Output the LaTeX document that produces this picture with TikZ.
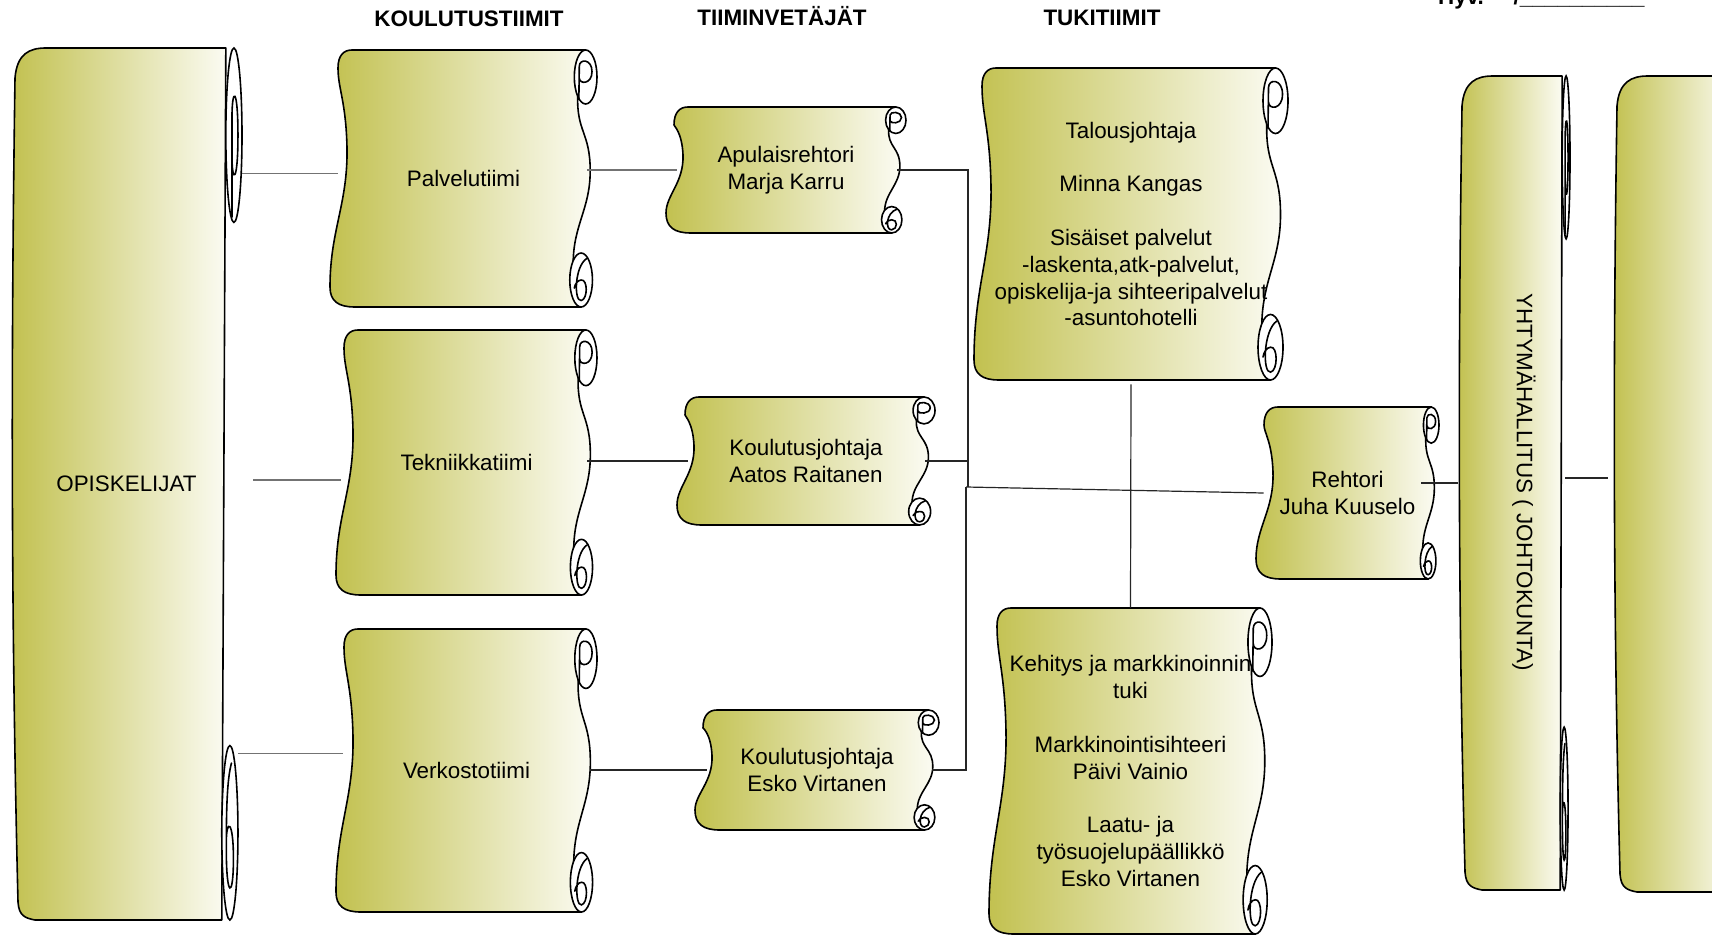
\documentclass[tikz,border=0pt]{standalone}
\usepackage{fontspec}
\setmainfont{Liberation Sans}
\usetikzlibrary{calc}
\definecolor{scrL}{RGB}{194,193,80}
\definecolor{scrR}{RGB}{251,251,242}
\tikzset{
 scrollbody/.style={left color=scrL,right color=scrR,draw=black,line width=0.8pt,line join=round},
 rollpart/.style={fill=white,draw=black,line width=0.8pt},
 curl/.style={draw=black,line width=0.8pt,line cap=round},
 scrolltext/.style={inner sep=0pt,align=center,font=\fontsize{11.2}{13.4}\selectfont},
 header/.style={anchor=base,font=\bfseries\fontsize{11.2}{13}\selectfont},
 conn/.style={draw=black!85,line width=0.6pt},
 conng/.style={draw=black!55,line width=0.6pt},
}
\newcommand\HScroll[6]{%
 \pgfmathsetmacro\sL{#2}\pgfmathsetmacro\sT{#3}%
 \pgfmathsetmacro\sR{#4}\pgfmathsetmacro\sB{#5}%
 \pgfmathsetmacro\sW{\sR-\sL}\pgfmathsetmacro\sH{\sB-\sT}%
 \pgfmathsetmacro\sw{min(0.085*\sW,25)}\pgfmathsetmacro\sh{0.21*\sH}%
 \pgfmathsetmacro\ca{\sR-0.5*\sw}\pgfmathsetmacro\cb{\sR-0.7*\sw}%
 \pgfmathsetmacro\rx{0.25*\sw}\pgfmathsetmacro\ry{0.25*\sh}%
 \pgfmathsetmacro\nW{0.5*\sW}\pgfmathsetmacro\nH{0.5*\sH}%
 \path[scrollbody] (\sL+22,\sT) -- (\ca,\sT) -- (\sR-0.85*\sw,\sT+0.85*\sh)
   .. controls (\sR-0.9*\sw,\sT+0.32*\sH) and (\sR-0.3*\sw,\sT+0.32*\sH) .. (\sR-0.3*\sw,\sT+0.47*\sH)
   .. controls (\sR-0.3*\sw,\sT+0.62*\sH) and (\sR-1.05*\sw,\sB-0.32*\sH) .. (\sR-1.05*\sw,\sB-0.8*\sh)
   -- (\cb,\sB) -- (\sL+25,\sB)
   .. controls (\sL+8,\sB) and (\sL,\sB-6) .. (\sL,\sB-20)
   .. controls (\sL,\sB-0.3*\sH) and (\sL+18,\sT+0.6*\sH) .. (\sL+17,\sT+0.38*\sH)
   .. controls (\sL+16,\sT+0.2*\sH) and (\sL+8,\sT+0.15*\sH) .. (\sL+8,\sT+18)
   .. controls (\sL+8,\sT+5) and (\sL+14,\sT) .. (\sL+22,\sT) -- cycle;
 \path[rollpart] (\ca,\sT+0.5*\sh) ellipse [x radius=\rx pt,y radius=\ry pt];
 \path[curl] (\ca-0.3*\sw,\sT+0.92*\sh) -- (\ca-0.28*\sw,\sT+0.3*\sh)
   .. controls (\ca-0.28*\sw,\sT+0.16*\sh) and (\ca+0.28*\sw,\sT+0.16*\sh) .. (\ca+0.28*\sw,\sT+0.4*\sh)
   .. controls (\ca+0.28*\sw,\sT+0.64*\sh) and (\ca-0.28*\sw,\sT+0.64*\sh) .. (\ca-0.28*\sw,\sT+0.52*\sh);
 \path[rollpart] (\cb,\sB-0.5*\sh) ellipse [x radius=\rx pt,y radius=\ry pt];
 \path[curl] (\cb+0.25*\sw,\sB-0.9*\sh)
   .. controls (\cb-0.3*\sw,\sB-0.75*\sh) and (\cb-0.32*\sw,\sB-0.1*\sh) .. (\cb,\sB-0.12*\sh)
   .. controls (\cb+0.3*\sw,\sB-0.14*\sh) and (\cb+0.3*\sw,\sB-0.52*\sh) .. (\cb,\sB-0.5*\sh)
   .. controls (\cb-0.15*\sw,\sB-0.5*\sh) and (\cb-0.28*\sw,\sB-0.42*\sh) .. (\cb-0.3*\sw,\sB-0.35*\sh);
 \node[scrolltext,minimum width=\nW pt,minimum height=\nH pt] (#1) at ({(\sL+\sR)/2},{(\sT+\sB)/2}) {#6};
}
\newcommand\VScroll[6]{%
 \pgfmathsetmacro\sL{#2}\pgfmathsetmacro\sT{#3}%
 \pgfmathsetmacro\sR{#4}\pgfmathsetmacro\sB{#5}%
 \pgfmathsetmacro\sW{\sR-\sL}\pgfmathsetmacro\sH{\sB-\sT}%
 \pgfmathsetmacro\sw{0.07*\sW}\pgfmathsetmacro\sh{0.2*\sH}%
 \pgfmathsetmacro\ca{\sR-0.5*\sw}\pgfmathsetmacro\cb{\sR-0.75*\sw}%
 \pgfmathsetmacro\rx{0.25*\sw}\pgfmathsetmacro\ry{0.25*\sh}%
 \pgfmathsetmacro\nW{0.5*\sW}\pgfmathsetmacro\nH{0.5*\sH}%
 \path[scrollbody] (\sL+35,\sT) -- (\sR-\sw,\sT) -- (\sR-1.25*\sw,\sB) -- (\sL+24,\sB)
   .. controls (\sL+14,\sB-2) and (\sL+8,\sB-4) .. (\sL+7,\sB-18)
   .. controls (\sL,\sB-0.35*\sH) and (\sL,\sT+0.35*\sH) .. (\sL+4,\sT+30)
   .. controls (\sL+6,\sT+6) and (\sL+18,\sT) .. (\sL+35,\sT) -- cycle;
 \path[rollpart] (\ca,\sT+0.5*\sh) ellipse [x radius=\rx pt,y radius=\ry pt];
 \path[curl] (\sR-0.62*\sw,\sT+0.97*\sh) -- (\sR-0.62*\sw,\sT+0.4*\sh)
   .. controls (\sR-0.62*\sw,\sT+0.22*\sh) and (\sR-0.25*\sw,\sT+0.22*\sh) .. (\sR-0.25*\sw,\sT+0.5*\sh)
   .. controls (\sR-0.25*\sw,\sT+0.78*\sh) and (\sR-0.62*\sw,\sT+0.78*\sh) .. (\sR-0.62*\sw,\sT+0.62*\sh);
 \path[rollpart] (\cb,\sB-0.5*\sh) ellipse [x radius=\rx pt,y radius=\ry pt];
 \path[curl] (\cb+0.1*\sw,\sB-0.9*\sh)
   .. controls (\cb-0.2*\sw,\sB-0.8*\sh) and (\cb-0.22*\sw,\sB-0.6*\sh) .. (\cb-0.22*\sw,\sB-0.4*\sh)
   .. controls (\cb-0.22*\sw,\sB-0.12*\sh) and (\cb+0.22*\sw,\sB-0.12*\sh) .. (\cb+0.22*\sw,\sB-0.35*\sh)
   .. controls (\cb+0.22*\sw,\sB-0.58*\sh) and (\cb-0.22*\sw,\sB-0.58*\sh) .. (\cb-0.22*\sw,\sB-0.45*\sh);
 \node[scrolltext,minimum width=\nW pt,minimum height=\nH pt] (#1) at ({(\sL+\sR)/2},{(\sT+\sB)/2}) {#6};
}
\begin{document}
\begin{tikzpicture}[x=0.5pt,y=-0.5pt]
\useasboundingbox (0,0) rectangle (1712,936);
\clip (0,0) rectangle (1712,936);
% headers
\node[header] (h1) at (469,27) {KOULUTUSTIIMIT};
\node[header] (h2) at (782,26) {TIIMINVETÄJÄT};
\node[header] (h3) at (1102,26) {TUKITIIMIT};
\node[anchor=base west,font=\bfseries\fontsize{11.2}{13}\selectfont] (hyv) at (1431,5) {Hyv.\hspace{15pt}/\_\_\_\_\_\_\_\_\_\_};
% scrolls
\VScroll{opisk}{11}{48}{242}{920}{OPISKELIJAT}
\HScroll{palv}{330}{50}{597}{307}{Palvelutiimi}
\HScroll{tekn}{336}{330}{597}{595}{Tekniikkatiimi}
\HScroll{verk}{336}{629}{597}{912}{Verkostotiimi}
\HScroll{apul}{666}{107}{906}{233}{Apulaisrehtori\\Marja Karru}
\HScroll{aatos}{677}{397}{935}{525}{Koulutusjohtaja\\Aatos Raitanen}
\HScroll{esko}{695}{710}{939}{830}{Koulutusjohtaja\\Esko Virtanen}
\HScroll{talous}{974}{68}{1288}{380}{Talousjohtaja\\~\\Minna Kangas\\~\\Sisäiset palvelut\\-laskenta,atk-palvelut,\\opiskelija-ja sihteeripalvelut\\-asuntohotelli}
\HScroll{kehit}{989}{608}{1272}{934}{Kehitys ja markkinoinnin\\tuki\\~\\Markkinointisihteeri\\Päivi Vainio\\~\\Laatu- ja\\työsuojelupäällikkö\\Esko Virtanen}
\HScroll{rehtori}{1256}{407}{1439}{579}{Rehtori\\Juha Kuuselo}
\VScroll{yhty}{1458}{76}{1570}{890}{}
\node[scrolltext,rotate=-90] (yhtytext) at (1524,482) {YHTYMÄHALLITUS ( JOHTOKUNTA)};
\VScroll{hallb}{1613}{76}{1745}{892}{}
% connectors
\coordinate (j1) at (968,487);
\coordinate (j2) at (966,487);
\draw[conng] ($(opisk.east |- palv.west)+(0,-5)$) -- ($(palv.west)+(8,-5)$);
\draw[conng] ($(opisk.east)+(11,-4)$) -- ($(opisk.east -| tekn.west)+(5,-4)$);
\draw[conng] ($(opisk.east |- verk.west)+(-4,-17)$) -- ($(verk.west)+(7,-17)$);
\draw[conng] ($(palv.east |- apul.west)+(-10,0)$) -- ($(apul.west)+(11,0)$);
\draw[conn] ($(tekn.east |- aatos.west)+(-10,0)$) -- ($(aatos.west)+(11,0)$);
\draw[conn] ($(verk.east |- esko.west)+(-7,0)$) -- ($(esko.west)+(12,0)$);
\draw[conn] ($(apul.east)+(-9,0)$) -| (j1);
\draw[conn] ($(aatos.east)+(-10,0)$) -- (aatos.east -| j1);
\draw[conn] (j2) |- ($(esko.east)+(-7,0)$);
\draw[conn] (j2) -- ($(rehtori.west)+(8,0)$);
\draw[conn] ($(talous.south)+(0,4)$) -- (kehit.north);
\draw[conn] ($(rehtori.east |- yhty.west)+(-18,0)$) -- (yhty.west);
\draw[conn] ($(yhty.east)+(-5,-5)$) -- ($(yhty.east -| hallb.west)+(-5,-5)$);
\end{tikzpicture}
\end{document}
